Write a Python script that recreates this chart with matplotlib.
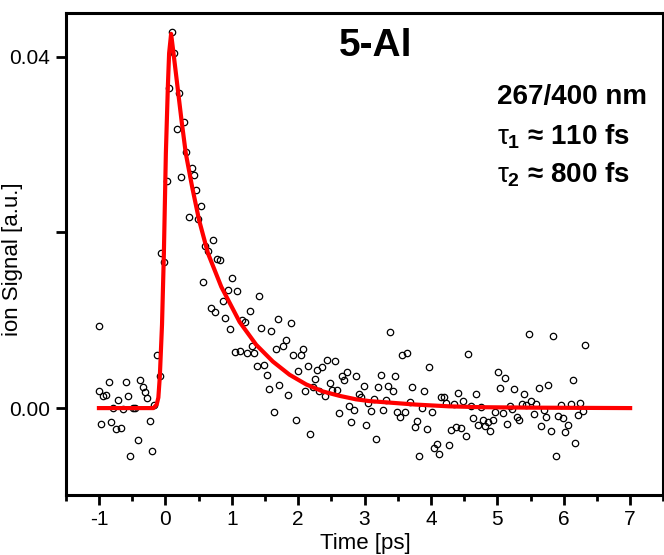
import matplotlib
matplotlib.use("Agg")
import matplotlib.pyplot as plt
from matplotlib.ticker import MultipleLocator

plt.rcParams['font.family'] = ['Liberation Sans', 'DejaVu Sans']
plt.rcParams['mathtext.fontset'] = 'custom'
plt.rcParams['mathtext.rm'] = 'Liberation Sans'
plt.rcParams['mathtext.it'] = 'Liberation Sans'
plt.rcParams['mathtext.bf'] = 'Liberation Sans:bold'
plt.rcParams['axes.unicode_minus'] = False

# measured ion signal (time in ps, signal in a.u.)
time_ps = [
    -1.003, -1.003, -0.968, -0.943, -0.893, -0.853, -0.818, -0.784, -0.748, -0.713,
    -0.673, -0.638, -0.598, -0.563, -0.528, -0.493, -0.453, -0.417, -0.383, -0.342,
    -0.308, -0.273, -0.237, -0.203, -0.168, -0.128, -0.087, -0.068, -0.018, 0.023,
    0.057, 0.093, 0.138, 0.173, 0.207, 0.243, 0.288, 0.318, 0.353, 0.398,
    0.433, 0.468, 0.493, 0.543, 0.574, 0.604, 0.643, 0.683, 0.718, 0.754,
    0.784, 0.823, 0.868, 0.904, 0.943, 0.973, 1.009, 1.044, 1.084, 1.119,
    1.159, 1.204, 1.229, 1.269, 1.303, 1.334, 1.374, 1.409, 1.444, 1.489,
    1.524, 1.559, 1.594, 1.634, 1.664, 1.694, 1.719, 1.779, 1.820, 1.854,
    1.889, 1.929, 1.964, 2.000, 2.039, 2.069, 2.105, 2.144, 2.180, 2.219,
    2.255, 2.290, 2.320, 2.365, 2.400, 2.440, 2.475, 2.510, 2.550, 2.585,
    2.620, 2.655, 2.695, 2.730, 2.766, 2.800, 2.841, 2.875, 2.910, 2.950,
    2.985, 3.021, 3.056, 3.096, 3.141, 3.166, 3.206, 3.246, 3.281, 3.316,
    3.351, 3.386, 3.426, 3.461, 3.496, 3.536, 3.571, 3.611, 3.646, 3.682,
    3.721, 3.757, 3.792, 3.826, 3.867, 3.902, 3.937, 3.977, 4.012, 4.047,
    4.087, 4.122, 4.147, 4.192, 4.232, 4.267, 4.302, 4.343, 4.377, 4.412,
    4.452, 4.487, 4.527, 4.562, 4.602, 4.637, 4.673, 4.712, 4.748, 4.783,
    4.818, 4.858, 4.893, 4.928, 4.968, 5.003, 5.038, 5.078, 5.113, 5.148,
    5.188, 5.223, 5.258, 5.293, 5.328, 5.368, 5.403, 5.438, 5.473, 5.514,
    5.553, 5.589, 5.623, 5.664, 5.698, 5.733, 5.769, 5.808, 5.844, 5.879,
    5.913, 5.954, 5.988, 6.024, 6.063, 6.103, 6.138, 6.168, 6.213, 6.249,
    6.284, 6.318,
]
signal = [
    0.0093, 0.0020, -0.0018, 0.0014, 0.0015, 0.0030, -0.0016, 0.0000, -0.0024, 0.0009,
    -0.0023, -0.0001, 0.0030, 0.0014, -0.0054, 0.0000, 0.0000, -0.0036, 0.0032, 0.0024,
    0.0018, 0.0012, -0.0015, -0.0049, 0.0003, 0.0061, 0.0036, 0.0176, 0.0166, 0.0258,
    0.0364, 0.0428, 0.0404, 0.0318, 0.0359, 0.0263, 0.0326, 0.0291, 0.0218, 0.0273,
    0.0265, 0.0248, 0.0215, 0.0230, 0.0144, 0.0185, 0.0179, 0.0114, 0.0191, 0.0109,
    0.0170, 0.0169, 0.0122, 0.0103, 0.0134, 0.0090, 0.0148, 0.0064, 0.0133, 0.0065,
    0.0100, 0.0098, 0.0063, 0.0111, 0.0071, 0.0063, 0.0048, 0.0128, 0.0091, 0.0049,
    0.0038, 0.0022, 0.0088, -0.0004, 0.0067, 0.0101, 0.0026, 0.0071, 0.0077, 0.0015,
    0.0097, 0.0060, -0.0013, 0.0042, 0.0061, 0.0067, 0.0020, 0.0048, -0.0029, 0.0024,
    0.0033, 0.0043, 0.0019, 0.0047, 0.0014, 0.0055, 0.0028, 0.0021, 0.0054, 0.0021,
    -0.0006, 0.0036, 0.0032, 0.0041, 0.0002, -0.0016, -0.0002, 0.0037, 0.0016, 0.0013,
    0.0025, -0.0019, 0.0006, -0.0003, 0.0010, -0.0035, 0.0024, 0.0038, -0.0002, 0.0009,
    0.0025, 0.0087, 0.0020, 0.0037, -0.0005, -0.0010, 0.0061, -0.0004, 0.0063, 0.0007,
    0.0024, -0.0021, -0.0015, -0.0054, 0.0000, 0.0019, -0.0024, 0.0047, -0.0005, -0.0045,
    -0.0041, -0.0052, 0.0013, 0.0013, 0.0006, -0.0042, -0.0025, 0.0005, -0.0022, 0.0017,
    -0.0023, 0.0008, -0.0032, 0.0062, 0.0002, -0.0011, 0.0016, -0.0019, 0.0001, -0.0013,
    -0.0020, -0.0016, -0.0026, -0.0014, -0.0005, 0.0041, 0.0023, -0.0006, 0.0034, -0.0018,
    0.0002, -0.0001, 0.0022, -0.0010, -0.0014, 0.0005, 0.0016, 0.0004, 0.0084, 0.0008,
    -0.0007, 0.0005, 0.0023, -0.0020, -0.0002, -0.0010, 0.0026, -0.0026, 0.0082, -0.0055,
    -0.0009, 0.0004, -0.0011, -0.0027, -0.0019, 0.0005, 0.0032, -0.0040, -0.0008, 0.0006,
    -0.0003, 0.0072,
]

# fit curve
fit_t = [-1.0, -0.18, -0.13, -0.105, -0.083, -0.05, -0.022, 0.008, 0.038, 0.057,
         0.087, 0.123, 0.183, 0.243, 0.308, 0.403, 0.508, 0.643, 0.843, 1.119,
         1.369, 1.619, 1.87, 2.12, 2.37, 2.62, 2.87, 3.07, 3.42, 3.77,
         4.27, 4.77, 5.5, 7.0]
fit_y = [0.0, 0.0, 0.0004, 0.0012, 0.0036, 0.0095, 0.0176, 0.0290, 0.0366, 0.0404,
         0.0426, 0.0404, 0.0366, 0.0328, 0.0290, 0.0252, 0.0214, 0.0176, 0.0138, 0.0098,
         0.0072, 0.0053, 0.0038, 0.0027, 0.0019, 0.0014, 0.0010, 0.0008, 0.0006, 0.0004,
         0.0002, 0.0001, 0.00005, 0.0]

y_ticks = [0.0, 0.02, 0.04]
y_ticklabels = ['0.00', '', '0.04']
x_ticks = [-1, 0, 1, 2, 3, 4, 5, 6, 7]

fig = plt.figure(figsize=(6.64, 5.55), dpi=100)
ax = fig.add_axes([0.099, 0.108, 0.9, 0.869])

ax.plot(time_ps, signal, 'o', markerfacecolor='none', markeredgecolor='black',
        markersize=4.6, markeredgewidth=0.9, zorder=2)
ax.plot(fit_t, fit_y, color='#ff0000', linewidth=3, zorder=3)

ax.set_xlim(-1.5, 7.5)
ax.set_ylim(-0.0099, 0.045)

ax.set_xticks(x_ticks)
ax.xaxis.set_minor_locator(MultipleLocator(0.5))
ax.set_yticks(y_ticks)
ax.set_yticklabels(y_ticklabels)
ax.tick_params(axis='both', which='major', direction='out', length=7, width=2,
               labelsize=15, pad=4)
ax.tick_params(axis='x', which='minor', direction='out', length=4.3, width=2)

for side in ax.spines.values():
    side.set_linewidth(2.2)

ax.set_xlabel('Time [ps]', fontsize=16)
ax.xaxis.set_label_coords(0.502, -0.078)
ax.set_ylabel('ion Signal [a.u.]', fontsize=16)
ax.yaxis.set_label_coords(-0.072, 0.49)

# annotations
ax.text(0.518, 0.91, '5-Al', transform=ax.transAxes, ha='center', va='baseline',
        fontsize=28, fontweight='bold')
ax.text(0.722, 0.810, '267/400 nm', transform=ax.transAxes, ha='left', va='baseline',
        fontsize=20, fontweight='bold')
ax.text(0.722, 0.727, r'$\tau_{\mathbf{1}}$ ≈ 110 fs', transform=ax.transAxes,
        ha='left', va='baseline', fontsize=20, fontweight='bold')
ax.text(0.722, 0.649, r'$\tau_{\mathbf{2}}$ ≈ 800 fs', transform=ax.transAxes,
        ha='left', va='baseline', fontsize=20, fontweight='bold')

fig.savefig('out.png', dpi=100)
